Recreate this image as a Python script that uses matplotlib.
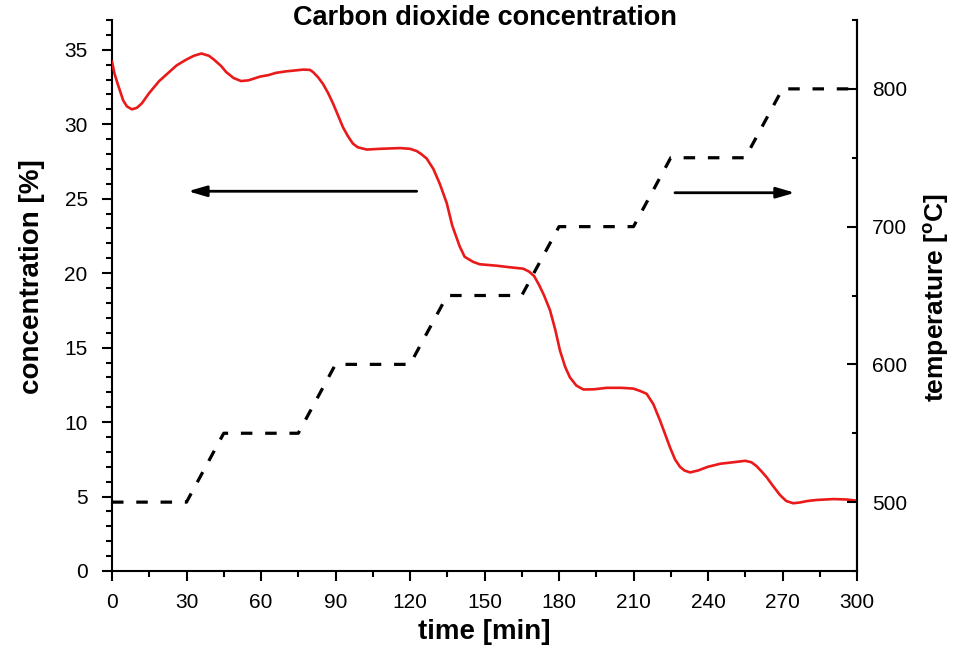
import matplotlib
matplotlib.use("Agg")
import matplotlib.pyplot as plt
from matplotlib.ticker import MultipleLocator

plt.rcParams['font.family'] = ['Liberation Sans', 'DejaVu Sans']

# ---- data ----
time_co2 = [0, 1, 2.5, 4.5, 6, 8, 10, 12, 15, 19, 23, 26, 30, 33, 36, 39, 41, 44, 46, 49,
            52, 55, 59.6, 63, 66, 70, 73, 77, 79.7, 81, 83, 85, 87, 89, 91, 93, 95, 97, 99,
            102.6, 108, 116, 120, 122.7, 124.5, 126.7, 129.4, 132, 134.8, 137, 140, 142,
            145.4, 148, 154.9, 160, 165.6, 168, 170, 172, 174, 176.4, 178.5, 180.4, 182.5,
            184.4, 187, 189.8, 194, 199.2, 205, 209.9, 212.5, 215.3, 218, 220.7, 222.7,
            224.7, 226.7, 228.7, 230.5, 232.8, 236, 240, 244.9, 250, 255, 257.5, 259.5,
            261.5, 263.6, 266, 269, 271.5, 274.3, 277, 280, 283.8, 290.5, 296, 300]
co2_conc = [34.2, 33.4, 32.6, 31.6, 31.2, 31.0, 31.1, 31.4, 32.1, 32.9, 33.5, 33.95, 34.35,
            34.6, 34.75, 34.6, 34.35, 33.9, 33.5, 33.1, 32.9, 32.95, 33.2, 33.3, 33.45,
            33.55, 33.6, 33.67, 33.65, 33.5, 33.15, 32.7, 32.1, 31.4, 30.6, 29.8, 29.2, 28.7,
            28.45, 28.3, 28.35, 28.4, 28.35, 28.2, 28.0, 27.7, 27.0, 26.0, 24.7, 23.2, 21.8,
            21.1, 20.76, 20.6, 20.5, 20.4, 20.3, 20.1, 19.8, 19.2, 18.5, 17.5, 16.2, 14.8,
            13.7, 13.0, 12.45, 12.19, 12.2, 12.3, 12.3, 12.25, 12.1, 11.9, 11.2, 10.1, 9.2,
            8.3, 7.5, 7.0, 6.75, 6.62, 6.75, 7.0, 7.2, 7.3, 7.4, 7.3, 7.05, 6.7, 6.3, 5.75,
            5.1, 4.7, 4.55, 4.6, 4.7, 4.77, 4.83, 4.8, 4.72]

time_temp = [0, 30, 45, 75, 90, 120, 135, 165, 180, 210, 225, 255, 270, 300]
temperature = [500, 500, 550, 550, 600, 600, 650, 650, 700, 700, 750, 750, 800, 800]

xticks = [0, 30, 60, 90, 120, 150, 180, 210, 240, 270, 300]
left_ticks = [0, 5, 10, 15, 20, 25, 30, 35]
right_ticks = [500, 600, 700, 800]

title = "Carbon dioxide concentration"
xlabel = "time [min]"
ylabel_left = "concentration [%]"
ylabel_right = "temperature [$^\\mathregular{o}$C]"

# ---- figure ----
fig = plt.figure(figsize=(9.55, 6.55), dpi=100)
ax = fig.add_axes([112/955, 1-571/655, 745/955, 551/655])
ax2 = ax.twinx()

ax.plot(time_co2, co2_conc, color='#ea1a1a', lw=1.9, zorder=3)
ax2.plot(time_temp, temperature, color='black', lw=2.3, dashes=(3.6, 4.0), zorder=2)

ax.set_xlim(0, 300)
ax.set_ylim(0, 37)
ax2.set_ylim(450, 850)

ax.set_xticks(xticks)
ax.set_yticks(left_ticks)
ax2.set_yticks(right_ticks)
ax.xaxis.set_minor_locator(MultipleLocator(15))
ax.yaxis.set_minor_locator(MultipleLocator(1))
ax2.yaxis.set_minor_locator(MultipleLocator(50))

for a in (ax, ax2):
    a.spines['top'].set_visible(False)
    for s in a.spines.values():
        s.set_linewidth(1.5)
ax2.spines['left'].set_visible(False)
ax2.spines['bottom'].set_visible(False)

ax.tick_params(axis='both', which='major', direction='out', length=7.5, width=1.5,
               labelsize=15, pad=10)
ax.tick_params(axis='both', which='minor', direction='out', length=4, width=1.5)
ax.tick_params(axis='x', which='major', pad=8)
ax2.tick_params(axis='y', which='major', direction='in', length=7, width=1.5,
                labelsize=15, pad=11)
ax2.tick_params(axis='y', which='minor', direction='in', length=3.5, width=1.5)

ax.set_xlabel(xlabel, fontsize=20, fontweight='bold')
ax.xaxis.set_label_coords(0.5, -0.088)
ax.set_ylabel(ylabel_left, fontsize=20, fontweight='bold')
ax.yaxis.set_label_coords(-0.09, 0.535)
ax2.set_ylabel(ylabel_right, fontsize=19, fontweight='bold')
ax2.yaxis.set_label_coords(1.086, 0.497)

fig.text(485/955, 1-18/655, title, fontsize=19.5, fontweight='bold',
         ha='center', va='center')

# arrows
ax.annotate('', xy=(30.6, 25.5), xytext=(122.7, 25.5),
            arrowprops=dict(arrowstyle='-|>,head_length=1.1,head_width=0.32',
                            lw=2.0, color='black', shrinkA=0, shrinkB=0))
ax.annotate('', xy=(275, 25.4), xytext=(226.7, 25.4),
            arrowprops=dict(arrowstyle='-|>,head_length=1.1,head_width=0.32',
                            lw=2.0, color='black', shrinkA=0, shrinkB=0))

fig.savefig('out.png', dpi=100)
